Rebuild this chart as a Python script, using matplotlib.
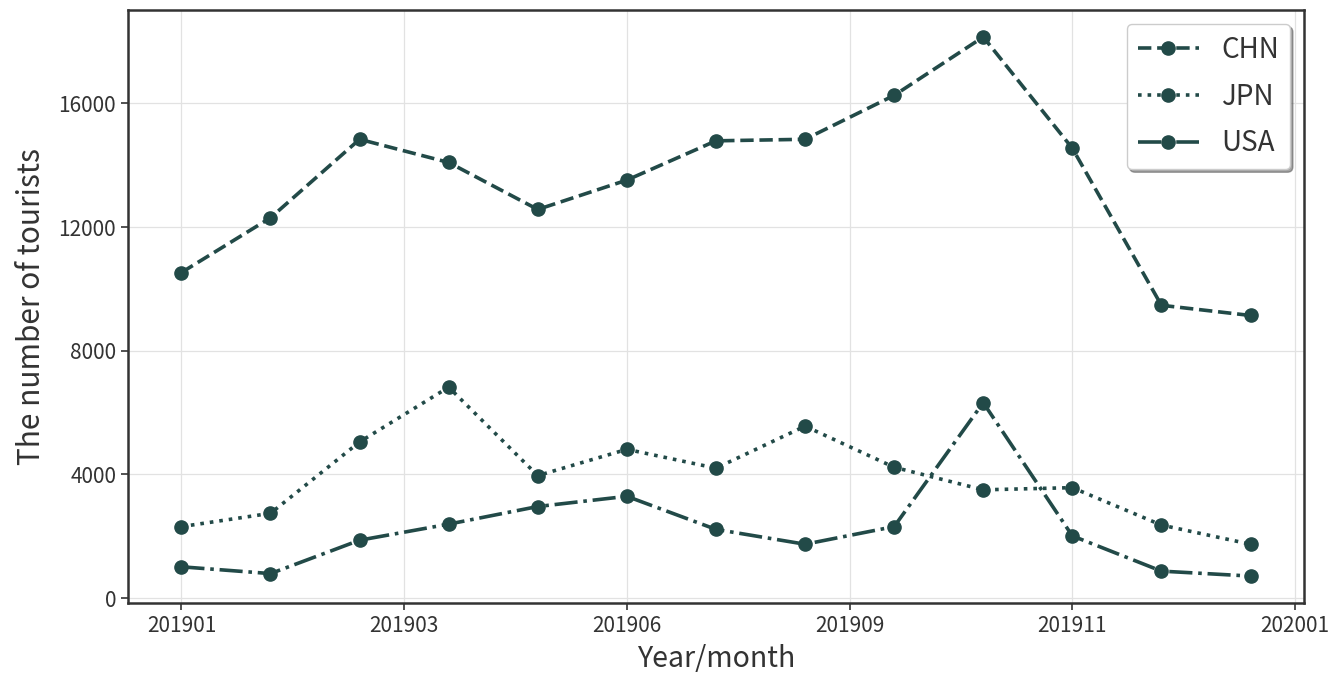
import matplotlib.pyplot as plt

plt.rcParams['font.family'] = ['Noto Sans CJK KR', 'DejaVu Sans']

months = ['201901', '201902', '201903', '201904', '201905', '201906', '201907',
          '201908', '201909', '201910', '201911', '201912', '202001']
chn = [10530, 12300, 14840, 14090, 12570, 13520, 14790,
       14840, 16260, 18150, 14550, 9470, 9140]
jpn = [2310, 2740, 5050, 6820, 3960, 4810, 4200,
       5560, 4230, 3500, 3570, 2360, 1740]
usa = [1010, 790, 1870, 2390, 2960, 3290, 2220,
       1740, 2310, 6320, 2010, 870, 710]
tick_labels = ['201901', '201903', '201906', '201909', '201911', '202001']

color = '#224a48'
x = list(range(len(months)))

fig = plt.figure(figsize=(13.37, 6.81), dpi=100)
ax = fig.add_axes([0.0957, 0.1145, 0.8796, 0.8708])

ax.plot(x, chn, linestyle='--', marker='o', color=color, lw=2.6, ms=9.5, label='CHN')
ax.plot(x, jpn, linestyle=':', marker='o', color=color, lw=2.6, ms=9.5, label='JPN')
ax.plot(x, usa, linestyle='-.', marker='o', color=color, lw=2.6, ms=9.5, label='USA')

ax.set_xticks([0, 2.5, 5, 7.5, 10, 12.5])
ax.set_xticklabels(tick_labels)
ax.set_yticks([0, 4000, 8000, 12000, 16000])
ax.tick_params(labelsize=15, colors='#333333', length=5, width=1.2)

ax.grid(True, color='#e2e2e2', lw=0.9)
ax.set_axisbelow(True)
for s in ax.spines.values():
    s.set_color('#333333')
    s.set_linewidth(1.8)

ax.set_xlabel('Year/month', fontsize=20.5, color='#333333', labelpad=5)
ax.set_ylabel('The number of tourists', fontsize=21.5, color='#333333', labelpad=8)

leg = ax.legend(loc='upper right', fontsize=20, fancybox=True, shadow=True,
                handlelength=2.2, borderpad=0.4, labelspacing=0.6)
for t in leg.get_texts():
    t.set_color('#333333')

fig.savefig('out.png')
